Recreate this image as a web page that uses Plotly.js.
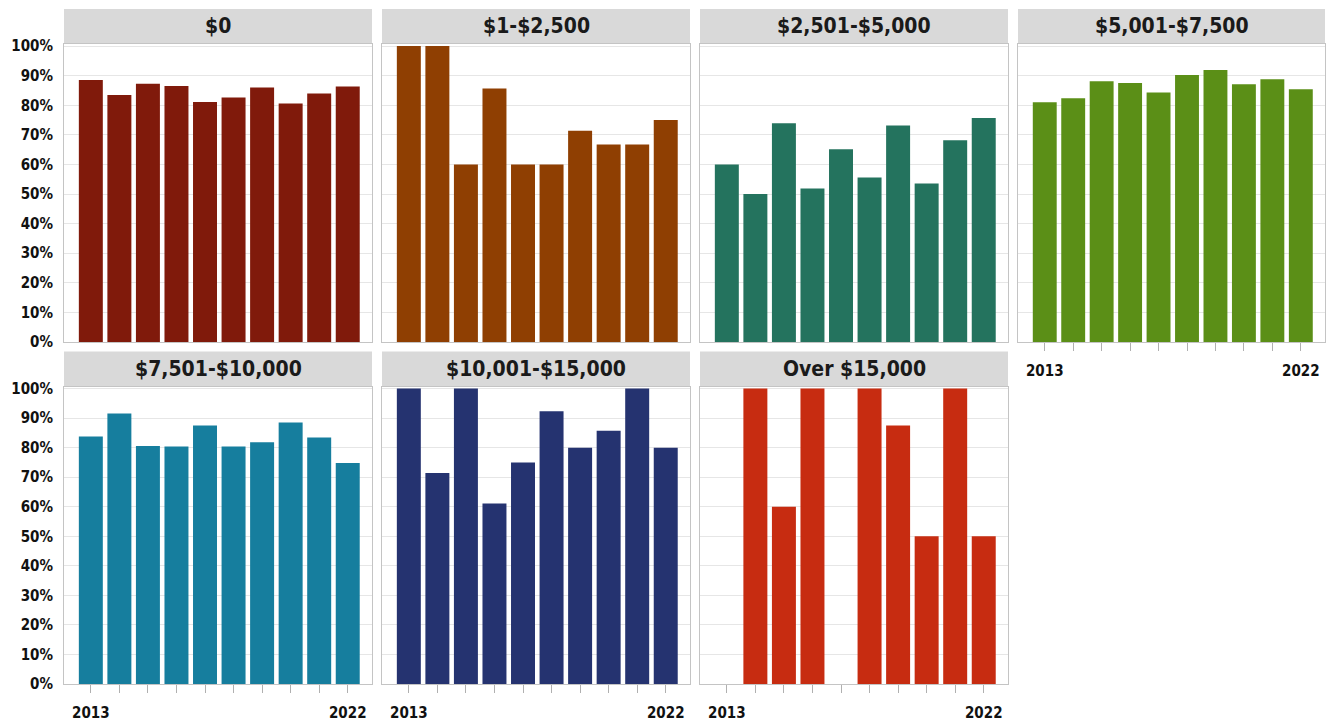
<!DOCTYPE html>
<html>
<head>
<meta charset="utf-8">
<script src="https://cdn.plot.ly/plotly-3.0.1.min.js"></script>
<style>html,body{margin:0;padding:0;background:#fff;}#chart{width:1331px;height:723px;}</style>
</head>
<body>
<div id="chart"></div>
<script>
const years = [2013, 2014, 2015, 2016, 2017, 2018, 2019, 2020, 2021, 2022];
const yearLabels = ['2013', '', '', '', '', '', '', '', '', '2022'];
const categories = ['$0', '$1-$2,500', '$2,501-$5,000', '$5,001-$7,500', '$7,501-$10,000', '$10,001-$15,000', 'Over $15,000'];
const vals0 = [88.5, 83.5, 87.3, 86.5, 81.1, 82.6, 86.0, 80.6, 84.0, 86.3];
const vals1 = [100, 100, 60, 85.7, 60, 60, 71.4, 66.7, 66.7, 75];
const vals2 = [60, 50, 73.9, 51.9, 65.1, 55.6, 73.2, 53.6, 68.2, 75.7];
const vals3 = [81.0, 82.4, 88.1, 87.5, 84.3, 90.2, 91.9, 87.1, 88.8, 85.4];
const vals4 = [83.8, 91.6, 80.6, 80.4, 87.5, 80.4, 81.8, 88.5, 83.4, 74.8];
const vals5 = [100, 71.4, 100, 61.1, 75, 92.3, 80, 85.7, 100, 80];
const vals6 = [null, 100, 60, 100, null, 100, 87.5, 50, 100, 50];
const yTicks = [0, 10, 20, 30, 40, 50, 60, 70, 80, 90, 100];
const yTickLabels = ['0%', '10%', '20%', '30%', '40%', '50%', '60%', '70%', '80%', '90%', '100%'];
const colors = ['#801a0b', '#8f3f02', '#24735e', '#5b8f17', '#167e9e', '#253370', '#c72c11'];
const series = [vals0, vals1, vals2, vals3, vals4, vals5, vals6];

const W = 1331, H = 723;
const colPx = [[64, 372], [382, 690], [700, 1008], [1018, 1325]];
const rowPx = [{hdr: [9, 44], plot: [44, 342]}, {hdr: [351.5, 386.5], plot: [386.5, 684]}];
const FONT = 'Liberation Sans Narrow, DejaVu Sans Condensed, Arial Narrow, sans-serif';
const bold = s => s ? '<b>' + s + '</b>' : '';

const data = [];
const layout = {
  width: W, height: H,
  margin: {l: 0, r: 0, t: 0, b: 0},
  paper_bgcolor: '#ffffff', plot_bgcolor: '#ffffff',
  showlegend: false,
  bargap: 0.16,
  font: {family: FONT, color: '#1a1a1a'},
  shapes: [], annotations: []
};

series.forEach((vals, i) => {
  const row = Math.floor(i / 4), col = i % 4;
  const n = i + 1;
  const xa = 'xaxis' + (n === 1 ? '' : n), ya = 'yaxis' + (n === 1 ? '' : n);
  const xr = 'x' + (n === 1 ? '' : n), yr = 'y' + (n === 1 ? '' : n);
  const cp = colPx[col], rp = rowPx[row];
  const bottomOfColumn = (row === 1) || (col === 3);
  data.push({
    type: 'bar', x: years, y: vals, xaxis: xr, yaxis: yr,
    marker: {color: colors[i], line: {width: 0}},
    hoverinfo: 'x+y'
  });
  layout[xa] = {
    domain: [cp[0] / W, cp[1] / W],
    anchor: yr,
    range: [2012.06, 2022.85],
    tickmode: 'array',
    tickvals: years, ticktext: yearLabels.map(bold),
    ticks: bottomOfColumn ? 'outside' : '',
    ticklen: 8, tickcolor: '#b0b0b0', tickwidth: 1,
    showticklabels: bottomOfColumn,
    ticklabelstandoff: 7,
    tickfont: {family: FONT, size: 15, color: '#111'},
    showgrid: false, zeroline: false,
    showline: true, mirror: true, linecolor: '#c4c4c4', linewidth: 1,
    fixedrange: true
  };
  layout[ya] = {
    domain: [(H - rp.plot[1]) / H, (H - rp.plot[0]) / H],
    anchor: xr,
    range: [0, 100.7],
    tickmode: 'array',
    tickvals: yTicks, ticktext: yTickLabels.map(bold),
    showticklabels: col === 0,
    ticks: '', ticklabelstandoff: 7,
    tickfont: {family: FONT, size: 15, color: '#111'},
    showgrid: true, gridcolor: '#e6e6e6', gridwidth: 1,
    zeroline: false,
    showline: true, mirror: true, linecolor: '#c4c4c4', linewidth: 1,
    fixedrange: true
  };
  layout.shapes.push({
    type: 'rect', xref: 'paper', yref: 'paper',
    x0: cp[0] / W, x1: cp[1] / W,
    y0: (H - rp.hdr[1]) / H, y1: (H - rp.hdr[0]) / H,
    fillcolor: '#d9d9d9', line: {width: 0}, layer: 'below'
  });
  layout.annotations.push({
    xref: 'paper', yref: 'paper',
    x: (cp[0] + cp[1]) / 2 / W, y: (H - (rp.hdr[0] + rp.hdr[1]) / 2) / H,
    xanchor: 'center', yanchor: 'middle',
    text: bold(categories[i]), showarrow: false,
    font: {family: FONT, size: 21, color: '#1a1a1a'}
  });
});

Plotly.newPlot('chart', data, layout, {displayModeBar: false, staticPlot: true});
</script>
</body>
</html>
